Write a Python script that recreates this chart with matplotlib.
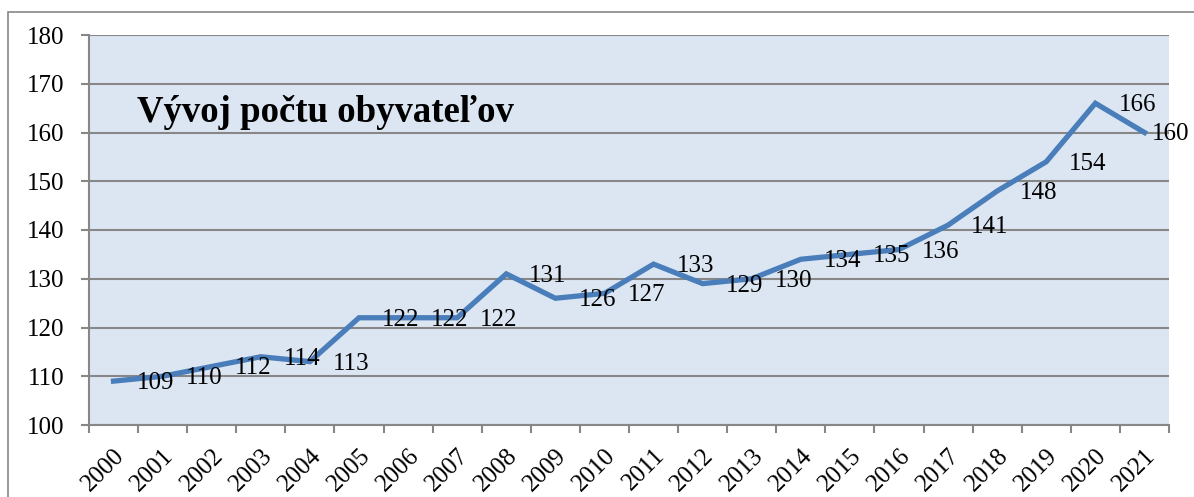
import numpy as np
import matplotlib.pyplot as plt
import matplotlib.transforms as mtransforms
from matplotlib.patches import Rectangle

roky = [str(r) for r in range(2000, 2022)]
obyvatelia = [109, 110, 112, 114, 113, 122, 122, 122, 131, 126, 127,
              133, 129, 130, 134, 135, 136, 141, 148, 154, 166, 160]

plt.rcParams['font.family'] = ['Liberation Serif', 'DejaVu Serif']
sivá = '#878787'

f = plt.figure(figsize=(11.94, 4.97), dpi=100)
# ramik okolo celeho grafu
f.patches.append(Rectangle((8 / 1194, -0.1), 1.2, 1.1 - 12 / 497, transform=f.transFigure,
                           fill=False, edgecolor=sivá, linewidth=1.2))

ax = f.add_axes([89 / 1194, 1 - 425 / 497, 1080 / 1194, 390 / 497])
ax.set_facecolor('#DCE6F2')

x = np.arange(len(roky))
ax.plot(x, obyvatelia, color='#4A7EBB', linewidth=3.8, solid_joinstyle='miter', zorder=3)

for xi, v in zip(x, obyvatelia):
    dx = 23 if xi < len(roky) - 1 else 7   # posledny popis sa musi zmestit
    ax.annotate(str(v), (xi, v), xytext=(dx, -2), textcoords='offset pixels',
                ha='left', va='center', fontsize=18, zorder=4)

ax.set_xlim(-0.5, len(roky) - 0.5)
ax.set_ylim(100, 180)
ax.set_yticks(range(100, 181, 10))
ax.yaxis.grid(True, color=sivá, linewidth=1.5)
ax.set_axisbelow(True)

ax.set_xticks(x)
ax.set_xticklabels(roky, rotation=45, ha='right', rotation_mode='anchor', fontsize=18)
posun = mtransforms.ScaledTranslation(-3 / 100, 0, f.dpi_scale_trans)
for t in ax.get_xticklabels():
    t.set_transform(t.get_transform() + posun)
ax.set_xticks(np.arange(-0.5, len(roky)), minor=True)
ax.tick_params(axis='x', which='major', length=0, pad=14)
ax.tick_params(axis='x', which='minor', length=6, color=sivá, width=1.5, direction='out')
ax.tick_params(axis='y', length=6, color=sivá, width=1.5, labelsize=18, pad=12)

for s in ['top', 'right']:
    ax.spines[s].set_visible(False)
for s in ['left', 'bottom']:
    ax.spines[s].set_color(sivá)
    ax.spines[s].set_linewidth(1.5)

ax.text(0.044, 0.80, 'Vývoj počtu obyvateľov', transform=ax.transAxes,
        fontsize=26.5, fontweight='bold', va='center', ha='left')

f.savefig('out.png', dpi=100)
